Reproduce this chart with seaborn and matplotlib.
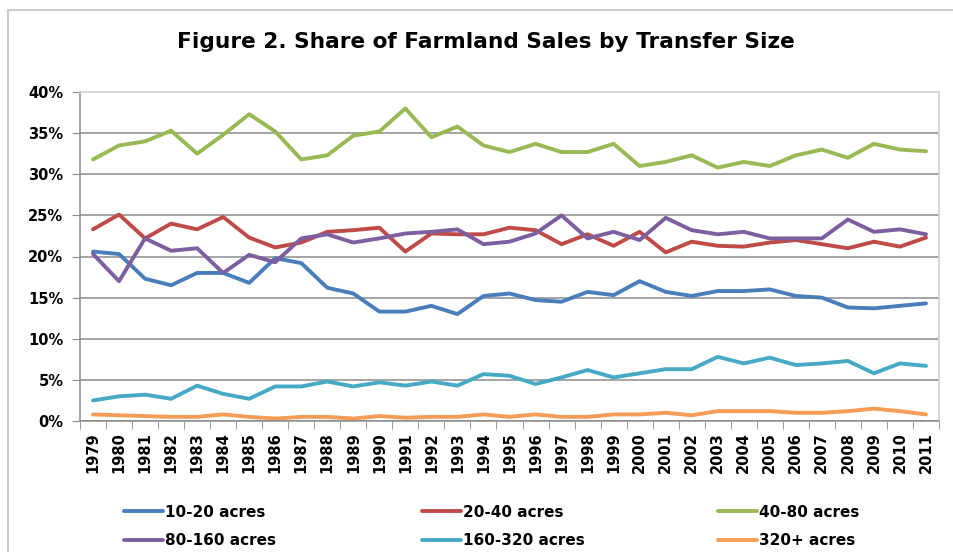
import pandas as pd
import seaborn as sns
import matplotlib.pyplot as plt
from matplotlib.patches import Rectangle
from matplotlib.lines import Line2D

# 연도 및 구간별 비율 (%)
years = list(range(1979, 2012))
size_labels = ['10-20 acres', '20-40 acres', '40-80 acres',
               '80-160 acres', '160-320 acres', '320+ acres']

acres_10_20 = [20.6, 20.3, 17.3, 16.5, 18.0, 18.0, 16.8, 19.8, 19.2, 16.2, 15.5,
               13.3, 13.3, 14.0, 13.0, 15.2, 15.5, 14.7, 14.5, 15.7, 15.3, 17.0,
               15.7, 15.2, 15.8, 15.8, 16.0, 15.2, 15.0, 13.8, 13.7, 14.0, 14.3]
acres_20_40 = [23.3, 25.1, 22.2, 24.0, 23.3, 24.8, 22.3, 21.1, 21.7, 23.0, 23.2,
               23.5, 20.6, 22.8, 22.7, 22.7, 23.5, 23.2, 21.5, 22.7, 21.3, 23.0,
               20.5, 21.8, 21.3, 21.2, 21.7, 22.0, 21.5, 21.0, 21.8, 21.2, 22.3]
acres_40_80 = [31.8, 33.5, 34.0, 35.3, 32.5, 34.8, 37.3, 35.2, 31.8, 32.3, 34.7,
               35.2, 38.0, 34.5, 35.8, 33.5, 32.7, 33.7, 32.7, 32.7, 33.7, 31.0,
               31.5, 32.3, 30.8, 31.5, 31.0, 32.3, 33.0, 32.0, 33.7, 33.0, 32.8]
acres_80_160 = [20.3, 17.0, 22.2, 20.7, 21.0, 18.0, 20.2, 19.3, 22.2, 22.7, 21.7,
                22.2, 22.8, 23.0, 23.3, 21.5, 21.8, 22.8, 25.0, 22.2, 23.0, 22.0,
                24.7, 23.2, 22.7, 23.0, 22.2, 22.2, 22.2, 24.5, 23.0, 23.3, 22.7]
acres_160_320 = [2.5, 3.0, 3.2, 2.7, 4.3, 3.3, 2.7, 4.2, 4.2, 4.8, 4.2,
                 4.7, 4.3, 4.8, 4.3, 5.7, 5.5, 4.5, 5.3, 6.2, 5.3, 5.8,
                 6.3, 6.3, 7.8, 7.0, 7.7, 6.8, 7.0, 7.3, 5.8, 7.0, 6.7]
acres_320_plus = [0.8, 0.7, 0.6, 0.5, 0.5, 0.8, 0.5, 0.3, 0.5, 0.5, 0.3,
                  0.6, 0.4, 0.5, 0.5, 0.8, 0.5, 0.8, 0.5, 0.5, 0.8, 0.8,
                  1.0, 0.7, 1.2, 1.2, 1.2, 1.0, 1.0, 1.2, 1.5, 1.2, 0.8]

colors = ['#4A7EBB', '#BE4B48', '#98B954', '#7D5FA0', '#46AAC5', '#F59D56']

series = [acres_10_20, acres_20_40, acres_40_80, acres_80_160, acres_160_320, acres_320_plus]
frames = []
for label, vals in zip(size_labels, series):
    frames.append(pd.DataFrame({'idx': range(len(years)), 'share': vals, 'size': label}))
df = pd.concat(frames, ignore_index=True)

sns.set_style('white')
plt.rcParams['font.family'] = ['DejaVu Sans']
plt.rcParams['font.weight'] = 'bold'
plt.rcParams['text.color'] = 'black'
plt.rcParams['xtick.labelcolor'] = 'black'
plt.rcParams['ytick.labelcolor'] = 'black'

fig = plt.figure(figsize=(9.54, 5.52), dpi=100)
ax = fig.add_axes([80 / 954, 1 - 421 / 552, (939 - 80) / 954, (421 - 92) / 552])

# 격자선
for v in range(0, 40, 5):
    ax.axhline(v, color='#8C8C8C', lw=1.1, zorder=0)

sns.lineplot(data=df, x='idx', y='share', hue='size', hue_order=size_labels,
             palette=colors, linewidth=2.8, legend=False, ax=ax)

ax.set_xlim(-0.5, len(years) - 0.5)
ax.set_ylim(0, 40)
ax.set_xlabel('')
ax.set_ylabel('')

ax.set_xticks(range(len(years)))
ax.set_xticklabels([str(y) for y in years], rotation=90, fontsize=10.5, fontweight='bold')
ax.set_xticks([i - 0.5 for i in range(len(years) + 1)], minor=True)
ax.tick_params(axis='x', which='major', length=0, pad=8, labelcolor='black')
ax.tick_params(axis='x', which='minor', length=6, color='#8C8C8C', direction='out', bottom=True)

ax.set_yticks(range(0, 45, 5))
ax.set_yticklabels([f'{v}%' for v in range(0, 45, 5)], fontsize=10.5, fontweight='bold')
ax.tick_params(axis='y', length=6, color='#8C8C8C', direction='out', left=True, pad=6,
               labelcolor='black')

for side in ['left', 'bottom']:
    ax.spines[side].set_color('#8C8C8C')
    ax.spines[side].set_linewidth(1.1)
for side in ['top', 'right']:
    ax.spines[side].set_visible(True)
    ax.spines[side].set_color('#D0D0D0')
    ax.spines[side].set_linewidth(1.2)

fig.text(486 / 954, 1 - 42 / 552, 'Figure 2. Share of Farmland Sales by Transfer Size',
         ha='center', va='center', fontsize=15.6, fontweight='bold', color='black')

# 범례 (3열)
col_x = [116, 414, 710]
order = [[0, 3], [1, 4], [2, 5]]
for cx, idxs in zip(col_x, order):
    handles = [Line2D([0], [0], color=colors[i], lw=2.8) for i in idxs]
    leg = fig.legend(handles, [size_labels[i] for i in idxs], loc='upper left',
                     bbox_to_anchor=(cx / 954, 1 - 497 / 552), frameon=False,
                     prop={'size': 11, 'weight': 'bold'}, handlelength=2.6,
                     handletextpad=0.12, labelspacing=0.88, borderpad=0)
    for t in leg.get_texts():
        t.set_color('black')

# 바깥 테두리
fig.patches.append(Rectangle((8 / 954, -0.1), 1.2, 1.1 - 10 / 552, transform=fig.transFigure,
                             fill=False, edgecolor='#C0C0C0', lw=1.2))

fig.savefig('out.png', dpi=100)
